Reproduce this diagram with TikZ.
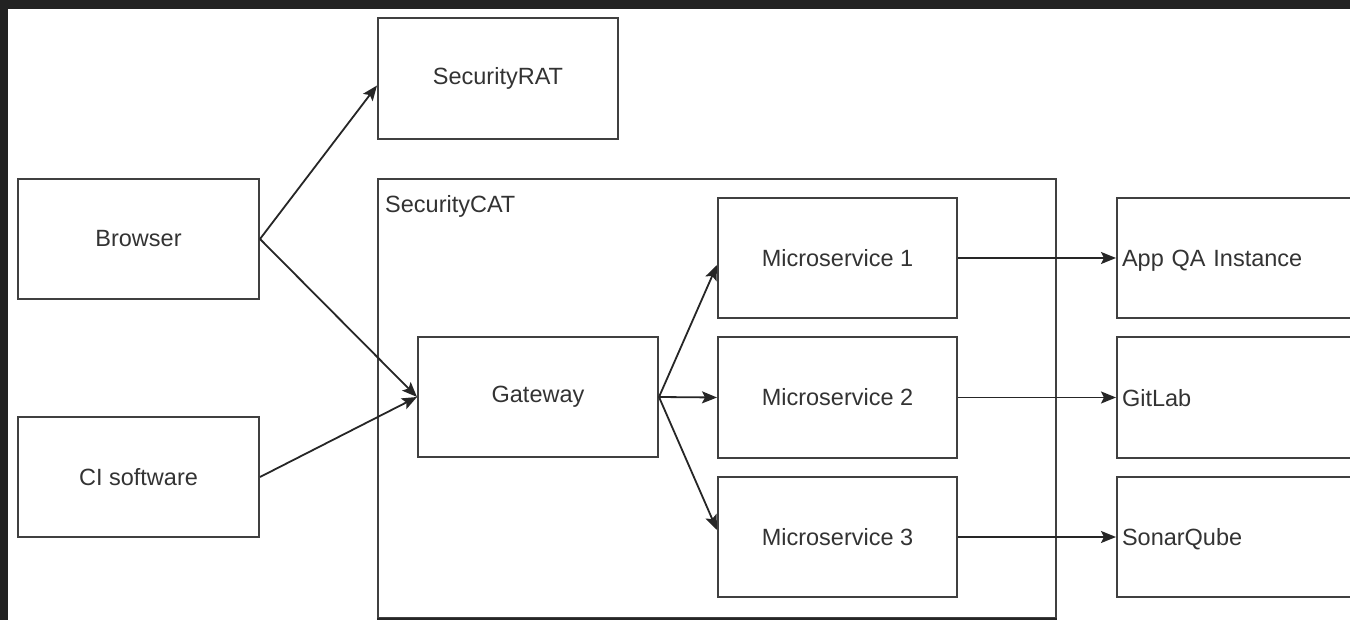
\documentclass[tikz,border=0pt]{standalone}
\usepackage{fontspec}
\setmainfont{Liberation Sans}
\usetikzlibrary{arrows.meta}
\definecolor{frame}{HTML}{222222}
\begin{document}
\begin{tikzpicture}[x=1pt,y=-1pt,
  lbl/.style={font=\fontsize{23.5}{28}\selectfont,text=black!80},
  box/.style={lbl,draw=black!75,line width=2pt,fill=white,inner sep=0pt,minimum width=240pt,minimum height=120pt},
  rbox/.style={lbl,draw=black!75,line width=2pt,fill=white,inner xsep=5pt,inner ysep=0pt,text width=280pt,align=left,minimum height=120pt,text depth=0pt},
  cont/.style={draw=black!75,line width=2pt,inner sep=0pt},
  arr/.style={draw=black!85,line width=1.8pt,-{Stealth[length=15pt,width=12pt,inset=3pt]}}]
\useasboundingbox (0,0) rectangle (1350,620);
\clip (0,0) rectangle (1350,620);
\fill[frame] (0,0) rectangle (1350,620);
\fill[white] (8,9) rectangle (1350,620);
% container
\node[cont,minimum width=678pt,minimum height=439pt] (cat) at (717,398.5) {};
\node[lbl,anchor=north west,inner sep=0pt] (catlbl) at (385,195) {SecurityCAT};
% nodes
\node[box,minimum height=121pt] (rat) at (498,78.5) {SecurityRAT};
\node[box,minimum width=241pt] (browser) at (138.5,239) {Browser};
\node[box,minimum width=241pt] (ci) at (138.5,477) {CI software};
\node[box] (gw) at (538,397) {Gateway};
\node[box,minimum width=239pt] (ms1) at (837.5,258) {Microservice 1};
\node[box,minimum width=239pt] (ms2) at (837.5,397.5) {Microservice 2};
\node[box,minimum width=239pt] (ms3) at (837.5,537) {Microservice 3};
\node[rbox,anchor=west] (qa) at (1116,258) {App QA Instance};
\node[rbox,anchor=west] (git) at (1116,397.5) {GitLab};
\node[rbox,anchor=west] (sonar) at (1116,537) {SonarQube};
% arrows
\draw[arr] (browser.east) -- ([yshift=-7pt]rat.west);
\draw[arr] (browser.east) -- (gw.west);
\draw[arr] (ci.east) -- (gw.west);
\draw[arr] (gw.east) -- ([yshift=-7pt]ms1.west);
\draw[arr] (gw.east) -- (ms2.west);
\draw[arr] (gw.east) -- ([yshift=7pt]ms3.west);
\draw[arr] (ms1.east) -- (qa.west);
\draw[arr] (ms2.east) -- (git.west);
\draw[arr] (ms3.east) -- (sonar.west);
\draw[black!85,line width=3pt] (cat.south west) -- (cat.south east);
\end{tikzpicture}
\end{document}
